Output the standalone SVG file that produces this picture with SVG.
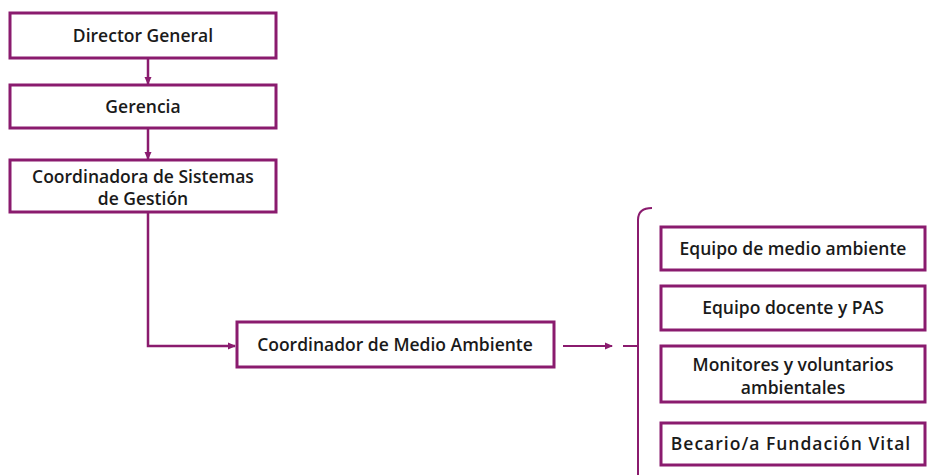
<svg xmlns="http://www.w3.org/2000/svg" width="933" height="475" viewBox="0 0 933 475">
<defs>
<marker id="ah" markerWidth="8" markerHeight="8" refX="7" refY="4" orient="auto" markerUnits="userSpaceOnUse">
<path d="M0,0.5 L8,4 L0,7.5 z" fill="#8a1b6e"/>
</marker>
<style>
.box{fill:#fff;stroke:#8a1b6e;stroke-width:3}
.t{font-family:"Open Sans","Liberation Sans",sans-serif;font-weight:600;font-size:17.5px;fill:#1a1a1a;text-anchor:middle}
.c{fill:none;stroke:#8a1b6e;stroke-width:2.5}
.b{fill:none;stroke:#8a1b6e;stroke-width:2}
</style>
</defs>
<g id="connectors">
<line class="c" x1="148" y1="58" x2="148" y2="84" marker-end="url(#ah)"/>
<line class="c" x1="148" y1="128" x2="148" y2="159" marker-end="url(#ah)"/>
<polyline class="c" points="148,212 148,346 235,346" marker-end="url(#ah)"/>
<line class="b" x1="563" y1="346" x2="612" y2="346" marker-end="url(#ah)"/>
<line class="b" x1="623" y1="346" x2="638" y2="346"/>
<path class="b" d="M652,208 Q638,208 638,220 L638,475"/>
</g>
<g id="n1"><rect class="box" x="10" y="13" width="266" height="45"/><text class="t" x="143" y="42">Director General</text></g>
<g id="n2"><rect class="box" x="10" y="85" width="266" height="43"/><text class="t" x="143" y="113">Gerencia</text></g>
<g id="n3"><rect class="box" x="10" y="160" width="266" height="52"/><text class="t" x="143" y="183">Coordinadora de Sistemas</text><text class="t" x="143" y="205">de Gestión</text></g>
<g id="n4"><rect class="box" x="237" y="322" width="317" height="45"/><text class="t" x="395" y="351">Coordinador de Medio Ambiente</text></g>
<g id="n5"><rect class="box" x="661" y="227" width="264" height="43"/><text class="t" x="793" y="255">Equipo de medio ambiente</text></g>
<g id="n6"><rect class="box" x="661" y="286" width="264" height="44"/><text class="t" x="793" y="314">Equipo docente y PAS</text></g>
<g id="n7"><rect class="box" x="661" y="346" width="264" height="56"/><text class="t" x="793" y="371">Monitores y voluntarios</text><text class="t" x="793" y="394">ambientales</text></g>
<g id="n8"><rect class="box" x="661" y="423" width="264" height="42"/><text class="t" x="791" y="450" letter-spacing="1">Becario/a Fundación Vital</text></g>
</svg>
